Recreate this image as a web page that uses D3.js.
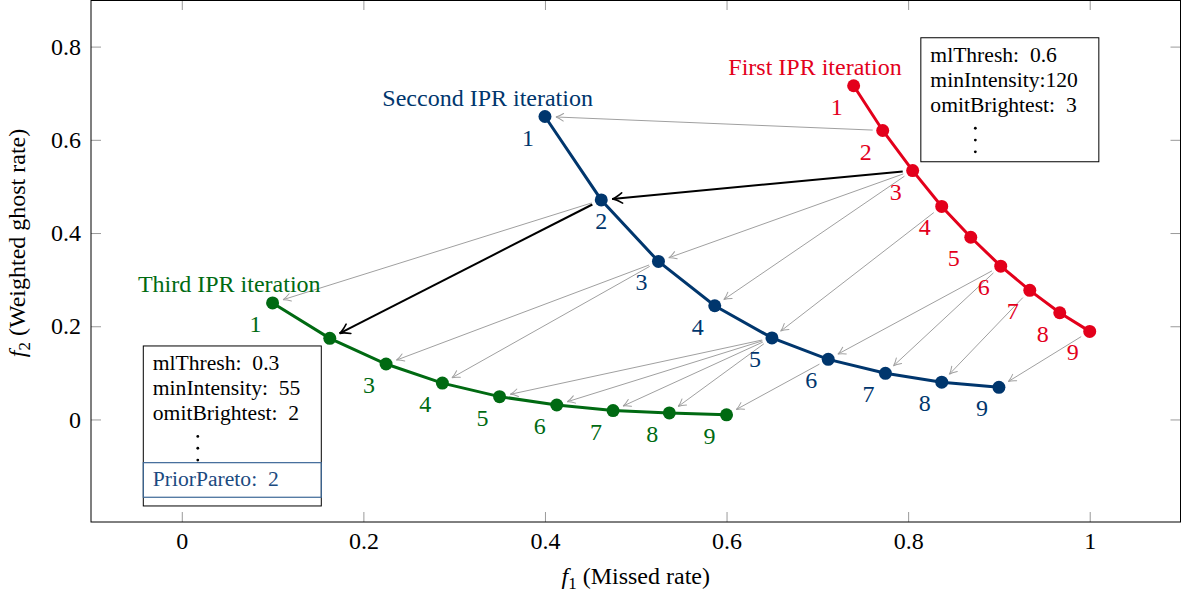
<!DOCTYPE html>
<html lang="en">
<head>
    <meta charset="UTF-8">
    <title>IPR iterations</title>
    <script src="https://d3js.org/d3.v7.min.js"></script>
    <style>
        body { margin: 0; background: #fff; }
        svg { display: block; font-family: 'Liberation Serif', 'DejaVu Serif', serif; }
    </style>
</head>
<body>
    <svg width="1181" height="598"></svg>
    <script>
        // data
        const seriesNames = ['First IPR iteration', 'Seccond IPR iteration', 'Third IPR iteration'];
        const firstX  = [0.740, 0.772, 0.805, 0.837, 0.869, 0.902, 0.934, 0.967, 1.000];
        const firstY  = [0.716, 0.620, 0.534, 0.457, 0.391, 0.329, 0.277, 0.229, 0.189];
        const secondX = [0.400, 0.462, 0.525, 0.587, 0.650, 0.712, 0.775, 0.837, 0.900];
        const secondY = [0.650, 0.471, 0.339, 0.244, 0.175, 0.129, 0.099, 0.080, 0.069];
        const thirdX  = [0.100, 0.163, 0.225, 0.287, 0.350, 0.413, 0.475, 0.537, 0.600];
        const thirdY  = [0.250, 0.174, 0.119, 0.078, 0.049, 0.031, 0.019, 0.014, 0.010];

        const xTicks = [0, 0.2, 0.4, 0.6, 0.8, 1];
        const yTicks = [0, 0.2, 0.4, 0.6, 0.8];

        // arrows: [series, point number] -> [series, point number]
        const linkFrom = [[0,2],[0,3],[0,3],[0,3],[0,4],[0,6],[0,6],[0,7],[0,9],
                          [1,2],[1,2],[1,3],[1,3],[1,5],[1,5],[1,5],[1,5],[1,6]];
        const linkTo   = [[1,1],[1,2],[1,3],[1,4],[1,5],[1,6],[1,7],[1,8],[1,9],
                          [2,1],[2,2],[2,3],[2,4],[2,5],[2,6],[2,7],[2,8],[2,9]];
        const mainLinks = [1, 10];

        const firstBox = ['mlThresh:  0.6', 'minIntensity:120', 'omitBrightest:  3'];
        const thirdBox = ['mlThresh:  0.3', 'minIntensity:  55', 'omitBrightest:  2'];
        const thirdPrior = 'PriorPareto:  2';

        const colors = ['#e3001b', '#00366d', '#006a12'];

        const margin = { top: 0, right: 0.5, bottom: 76, left: 91 },
              width = 1181 - margin.left - margin.right,
              height = 598 - margin.top - margin.bottom;

        const svg = d3.select('svg')
            .append('g')
            .attr('transform', `translate(${margin.left},${margin.top})`);

        const x = d3.scaleLinear().domain([-0.1, 1.1]).range([0, width]);
        const y = d3.scaleLinear().domain([-0.22, 0.9]).range([height, 0]);

        const fmt = d3.format('~g');

        // axes with inward ticks on all four sides
        const axL = svg.append('g').call(d3.axisLeft(y).tickValues(yTicks).tickFormat(fmt).tickSizeInner(-10).tickSizeOuter(0).tickPadding(10));
        const axR = svg.append('g').attr('transform', `translate(${width},0)`)
            .call(d3.axisRight(y).tickValues(yTicks).tickFormat('').tickSizeInner(-10).tickSizeOuter(0));
        const axB = svg.append('g').attr('transform', `translate(0,${height})`)
            .call(d3.axisBottom(x).tickValues(xTicks).tickFormat(fmt).tickSizeInner(-10).tickSizeOuter(0).tickPadding(10));
        const axT = svg.append('g')
            .call(d3.axisTop(x).tickValues(xTicks).tickFormat('').tickSizeInner(-10).tickSizeOuter(0));

        [axL, axR, axB, axT].forEach(a => {
            a.select('.domain').remove();
            a.selectAll('line').attr('stroke', '#9a9a9a');
            a.selectAll('text').attr('fill', '#000').style('font-family', null).style('font-size', '24px');
            a.attr('font-family', null).attr('font-size', null);
        });

        // axis labels
        const xl = svg.append('text')
            .attr('x', width / 2).attr('y', height + 62)
            .attr('text-anchor', 'middle').style('font-size', '24px');
        xl.append('tspan').style('font-style', 'italic').text('f');
        xl.append('tspan').attr('dy', 5).style('font-size', '17px').text('1');
        xl.append('tspan').attr('dy', -5).text(' (Missed rate)');

        const yl = svg.append('text')
            .attr('transform', `translate(${-66},${height / 2 - 18}) rotate(-90)`)
            .attr('text-anchor', 'middle').style('font-size', '24px');
        yl.append('tspan').style('font-style', 'italic').text('f');
        yl.append('tspan').attr('dy', 5).style('font-size', '17px').text('2');
        yl.append('tspan').attr('dy', -5).text(' (Weighted ghost rate)');

        const series = [
            firstX.map((v, i) => ({ x: v, y: firstY[i], n: i + 1 })),
            secondX.map((v, i) => ({ x: v, y: secondY[i], n: i + 1 })),
            thirdX.map((v, i) => ({ x: v, y: thirdY[i], n: i + 1 }))
        ];

        // arrow heads
        const defs = d3.select('svg').append('defs');
        [['tip-gray', '#a0a0a0', 1, 'M-7.5,-3.8 Q-3,-0.7 0,0 Q-3,0.7 -7.5,3.8'],
         ['tip-black', '#000', 1.6, 'M-10,-5.2 Q-4,-0.9 0,0 Q-4,0.9 -10,5.2']].forEach(([id, c, w, p]) => {
            defs.append('marker')
                .attr('id', id)
                .attr('markerUnits', 'userSpaceOnUse')
                .attr('viewBox', '-12 -7 14 14')
                .attr('refX', 0).attr('refY', 0)
                .attr('markerWidth', 14).attr('markerHeight', 14)
                .attr('orient', 'auto')
                .append('path')
                .attr('d', p)
                .attr('fill', 'none')
                .attr('stroke', c)
                .attr('stroke-width', w)
                .attr('stroke-linecap', 'round');
        });

        const links = linkFrom.map((f, i) => {
            const a = series[f[0]][f[1] - 1], b = series[linkTo[i][0]][linkTo[i][1] - 1];
            const x0 = x(a.x), y0 = y(a.y), x1 = x(b.x), y1 = y(b.y);
            const len = Math.hypot(x1 - x0, y1 - y0);
            const ux = (x1 - x0) / len, uy = (y1 - y0) / len;
            return { x0: x0 + ux * 10, y0: y0 + uy * 10, x1: x1 - ux * 11, y1: y1 - uy * 11, main: mainLinks.includes(i) };
        });

        // gray first, black on top
        svg.selectAll('.link')
            .data(links.slice().sort((a, b) => a.main - b.main))
            .enter()
            .append('line')
            .attr('class', 'link')
            .attr('x1', d => d.x0).attr('y1', d => d.y0)
            .attr('x2', d => d.x1).attr('y2', d => d.y1)
            .attr('stroke', d => d.main ? '#000' : '#a0a0a0')
            .attr('stroke-width', d => d.main ? 2 : 1)
            .attr('marker-end', d => d.main ? 'url(#tip-black)' : 'url(#tip-gray)');

        const line = d3.line().x(d => x(d.x)).y(d => y(d.y));

        series.forEach((data, s) => {
            svg.append('path')
                .datum(data)
                .attr('fill', 'none')
                .attr('stroke', colors[s])
                .attr('stroke-width', 3)
                .attr('d', line);

            svg.selectAll('.pt' + s)
                .data(data)
                .enter()
                .append('circle')
                .attr('class', 'pt' + s)
                .attr('cx', d => x(d.x))
                .attr('cy', d => y(d.y))
                .attr('r', 6.5)
                .attr('fill', colors[s]);

            // point numbers, below left (second iteration's point 2 sits right below)
            svg.selectAll('.lbl' + s)
                .data(data)
                .enter()
                .append('text')
                .attr('class', 'lbl' + s)
                .attr('x', d => x(d.x) + ((s === 1 && d.n === 2) ? 0 : -17))
                .attr('y', d => y(d.y) + 29)
                .attr('text-anchor', 'middle')
                .attr('fill', colors[s])
                .style('font-size', '24px')
                .text(d => d.n);

            svg.append('text')
                .attr('x', x(data[0].x) + 48)
                .attr('y', y(data[0].y) - 11)
                .attr('text-anchor', 'end')
                .attr('fill', colors[s])
                .style('font-size', '24px')
                .text(seriesNames[s]);
        });

        // parameter boxes
        function paramBox(bx, by, w, h, lines) {
            const g = svg.append('g').attr('transform', `translate(${x(bx)},${y(by)})`);
            g.append('rect')
                .attr('width', w).attr('height', h)
                .attr('fill', '#fff').attr('stroke', '#000').attr('stroke-width', 1);
            g.selectAll('.row')
                .data(lines)
                .enter()
                .append('text')
                .attr('x', 9.5)
                .attr('y', (d, i) => 24.5 + i * 25)
                .style('font-size', '21.6px')
                .style('white-space', 'pre')
                .text(d => d);
            g.selectAll('.dot')
                .data([0, 1, 2])
                .enter()
                .append('circle')
                .attr('cx', 54.5)
                .attr('cy', d => 90.5 + d * 11.8)
                .attr('r', 1.4)
                .attr('fill', '#000');
            return g;
        }

        paramBox(0.814, 0.819, 178, 124, firstBox);
        const boxC = paramBox(-0.0424, 0.1577, 178, 160, thirdBox);
        boxC.append('rect')
            .attr('y', 116.7).attr('width', 178).attr('height', 34.6)
            .attr('fill', 'none').attr('stroke', '#3d6897').attr('stroke-width', 1.2);
        boxC.append('text')
            .attr('x', 9.5).attr('y', 140.5)
            .attr('fill', '#1b4a80')
            .style('font-size', '21.6px')
            .style('white-space', 'pre')
            .text(thirdPrior);

        // frame
        svg.append('rect')
            .attr('x', 0).attr('y', 0.5)
            .attr('width', width).attr('height', height - 0.5)
            .attr('fill', 'none')
            .attr('stroke', '#000')
            .attr('stroke-width', 1);
    </script>
</body>
</html>
